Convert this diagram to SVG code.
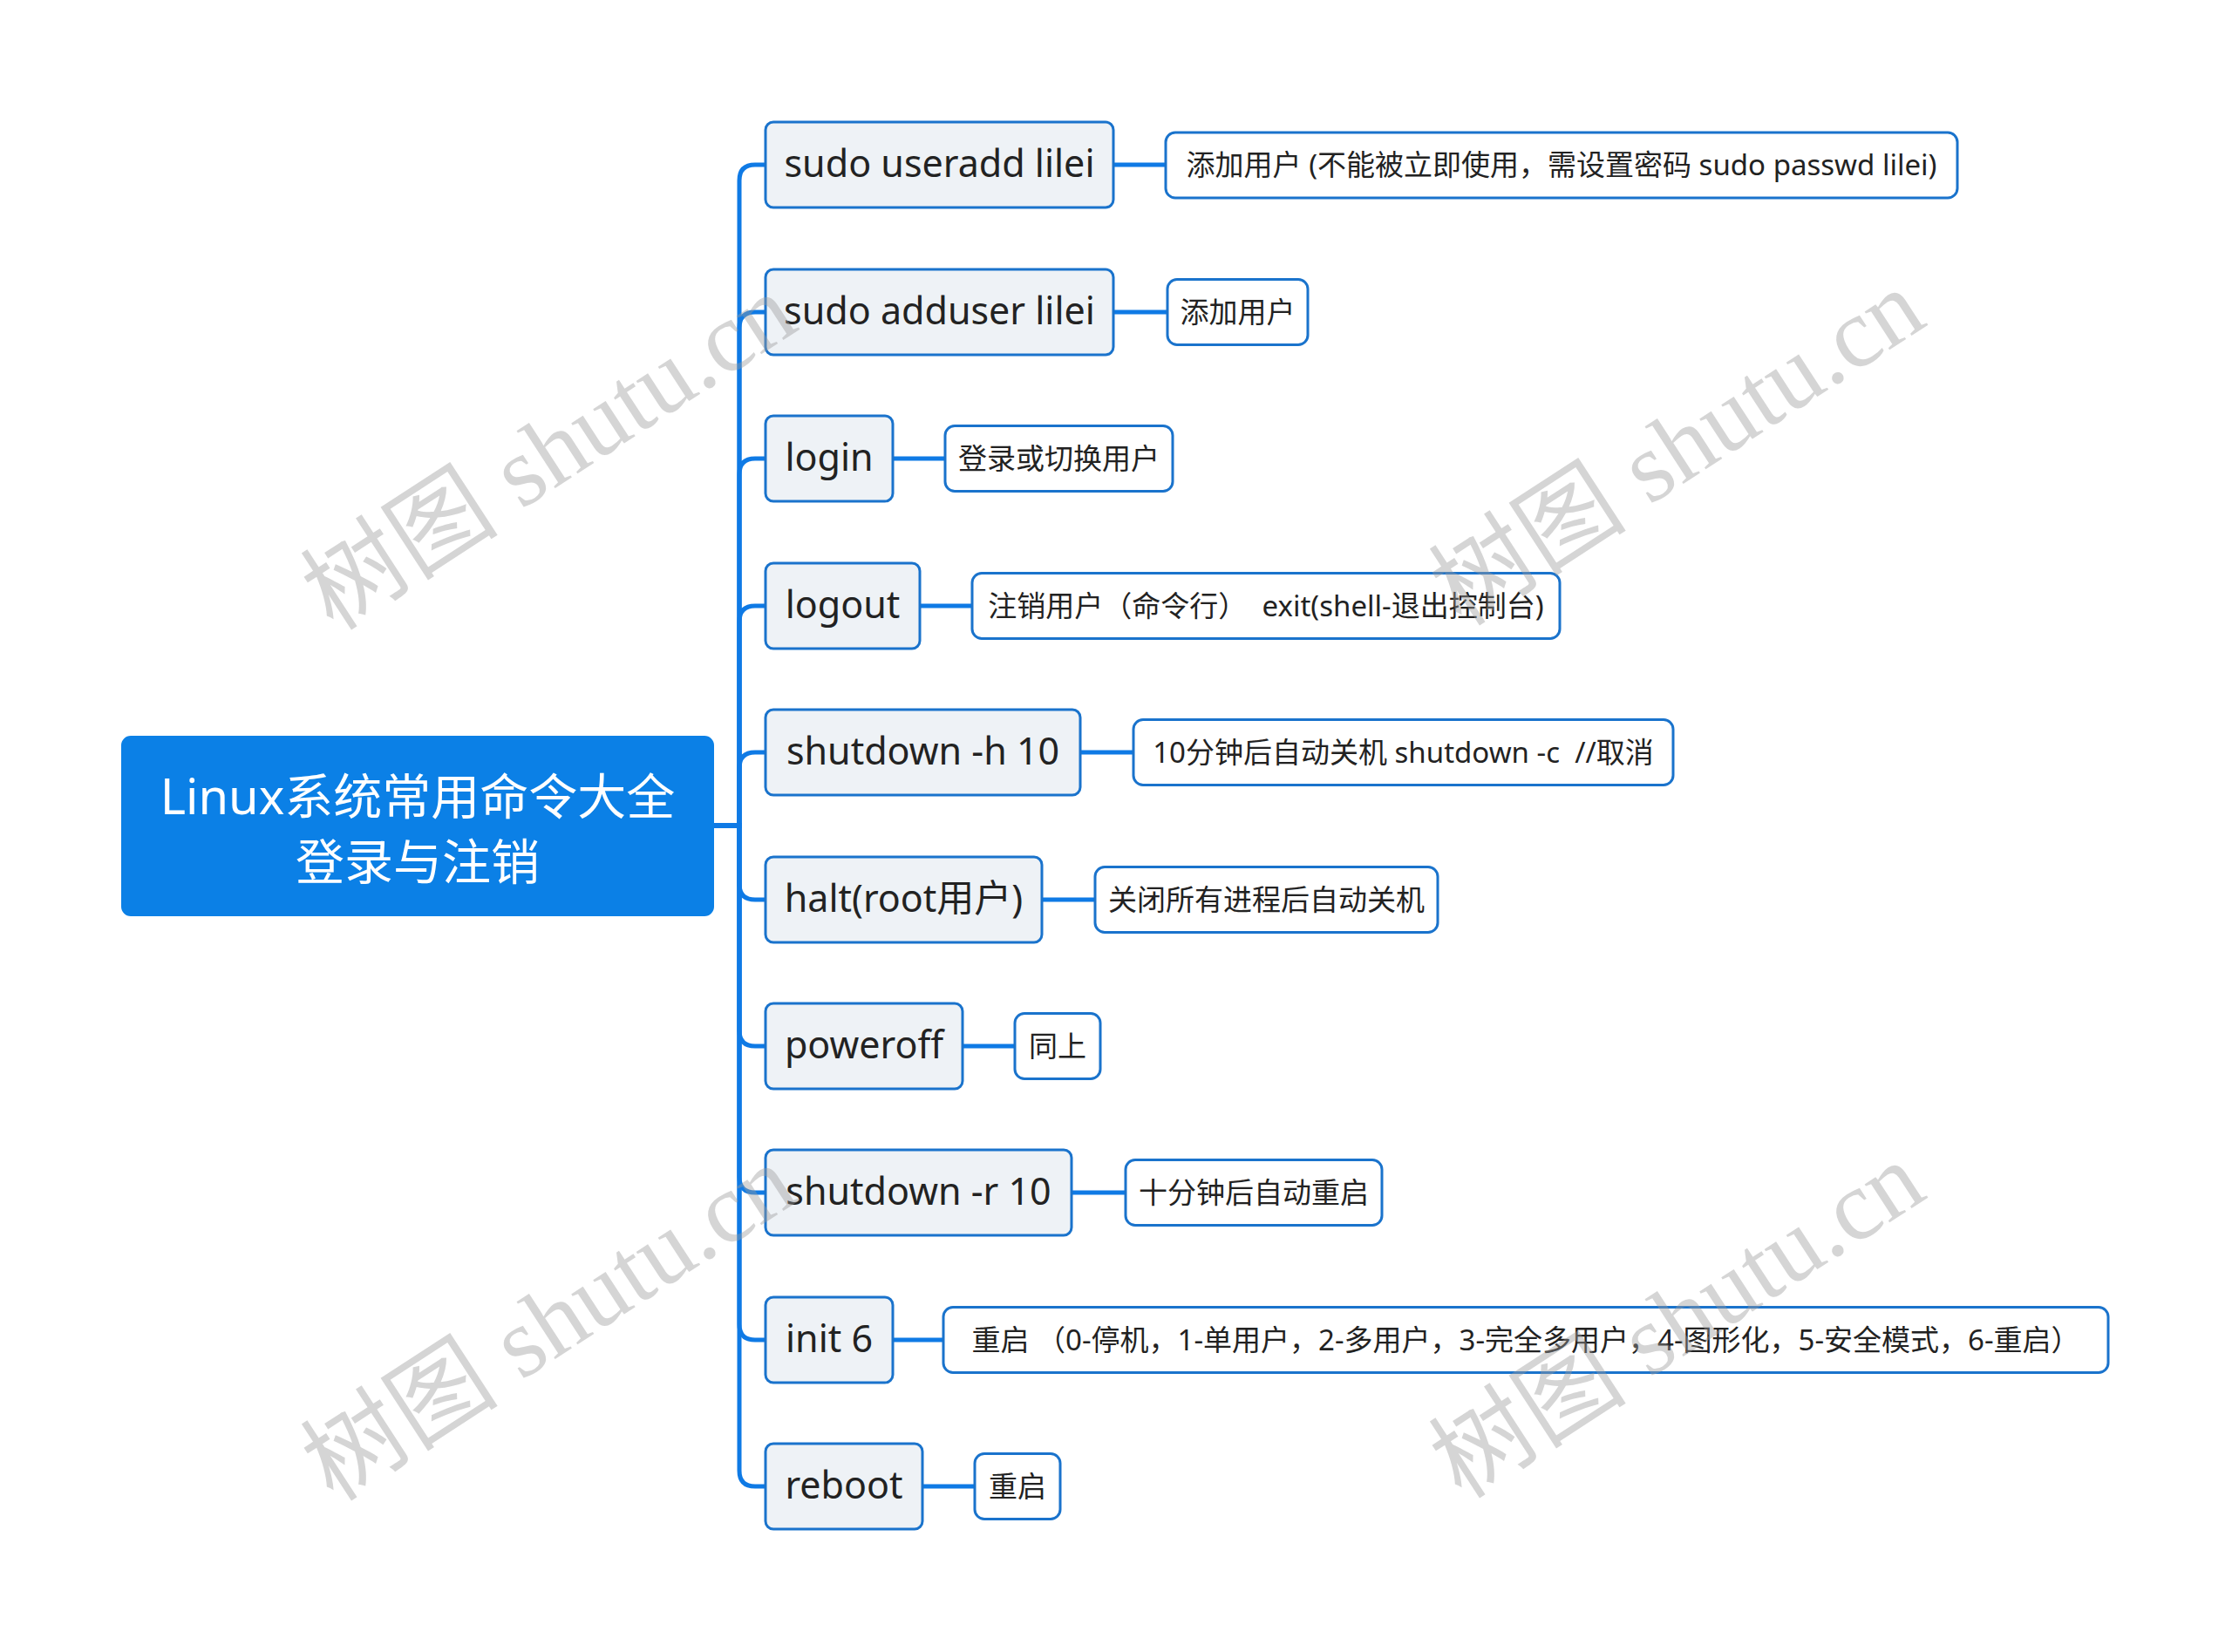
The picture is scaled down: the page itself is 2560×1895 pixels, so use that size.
<svg xmlns="http://www.w3.org/2000/svg" width="2560" height="1895" viewBox="0 0 2560 1895">
<style>
.bg{fill:#ffffff}
.root rect{fill:#0b80e6;stroke:#0b80e6;stroke-width:2}
.root text{fill:#ffffff;font-family:"Noto Sans","Noto Sans CJK SC",sans-serif;font-size:56px;text-anchor:middle}
.main rect{fill:#eef2f6;stroke:#1a73cc;stroke-width:3}
.main text{fill:#222222;font-family:"Noto Sans","Noto Sans CJK SC",sans-serif;font-size:43px;text-anchor:middle}
.leaf rect{fill:#ffffff;stroke:#1a73cc;stroke-width:3}
.leaf text{fill:#222222;font-family:"Noto Sans","Noto Sans CJK SC",sans-serif;font-size:33px;text-anchor:middle;white-space:pre}
.conn path{fill:none;stroke:#0f7ae5;stroke-width:5;stroke-linecap:butt}
.wm{fill:#9a9a9a;fill-opacity:0.42;font-family:"Liberation Serif","Noto Sans CJK SC",serif;font-size:114px;text-anchor:middle}
</style>
<rect class="bg" x="0" y="0" width="2560" height="1895"/>
<g id="connectors" class="conn">
<path d="M818 947 H848 V207 Q848 189 866 189 H878"/>
<path d="M818 947 H848 V376 Q848 358 866 358 H878"/>
<path d="M818 947 H848 V544 Q848 526 866 526 H878"/>
<path d="M818 947 H848 V713 Q848 695 866 695 H878"/>
<path d="M818 947 H848 V881 Q848 863 866 863 H878"/>
<path d="M818 947 H848 V1014 Q848 1032 866 1032 H878"/>
<path d="M818 947 H848 V1182 Q848 1200 866 1200 H878"/>
<path d="M818 947 H848 V1350 Q848 1368 866 1368 H878"/>
<path d="M818 947 H848 V1519 Q848 1537 866 1537 H878"/>
<path d="M818 947 H848 V1687 Q848 1705 866 1705 H878"/>
<path d="M1277 189 H1337"/>
<path d="M1277 358 H1339"/>
<path d="M1024 526 H1084"/>
<path d="M1055 695 H1115"/>
<path d="M1239 863 H1300"/>
<path d="M1195 1032 H1256"/>
<path d="M1104 1200 H1164"/>
<path d="M1229 1368 H1291"/>
<path d="M1024 1537 H1082"/>
<path d="M1058 1705 H1118"/>
</g>
<g id="root" class="root">
<rect x="140" y="845" width="678" height="205" rx="10"/>
<text x="479" y="934">Linux系统常用命令大全</text>
<text x="479" y="1009">登录与注销</text>
</g>
<g id="n1" class="main"><rect x="878" y="140" width="399" height="98" rx="9"/><text x="1077.5" y="203">sudo useradd lilei</text></g>
<g id="n2" class="main"><rect x="878" y="309" width="399" height="98" rx="9"/><text x="1077.5" y="372">sudo adduser lilei</text></g>
<g id="n3" class="main"><rect x="878" y="477" width="146" height="98" rx="9"/><text x="951" y="540">login</text></g>
<g id="n4" class="main"><rect x="878" y="646" width="177" height="98" rx="9"/><text x="966.5" y="709">logout</text></g>
<g id="n5" class="main"><rect x="878" y="814" width="361" height="98" rx="9"/><text x="1058.5" y="877">shutdown -h 10</text></g>
<g id="n6" class="main"><rect x="878" y="983" width="317" height="98" rx="9"/><text x="1036.5" y="1046">halt(root用户)</text></g>
<g id="n7" class="main"><rect x="878" y="1151" width="226" height="98" rx="9"/><text x="991" y="1214">poweroff</text></g>
<g id="n8" class="main"><rect x="878" y="1319" width="351" height="98" rx="9"/><text x="1053.5" y="1382">shutdown -r 10</text></g>
<g id="n9" class="main"><rect x="878" y="1488" width="146" height="98" rx="9"/><text x="951" y="1551">init 6</text></g>
<g id="n10" class="main"><rect x="878" y="1656" width="180" height="98" rx="9"/><text x="968" y="1719">reboot</text></g>
<g id="l1" class="leaf"><rect x="1337" y="152" width="908" height="75" rx="11"/><text x="1791" y="201">添加用户 (不能被立即使用，需设置密码 sudo passwd lilei)</text></g>
<g id="l2" class="leaf"><rect x="1339" y="320.5" width="161" height="75" rx="11"/><text x="1419.5" y="370">添加用户</text></g>
<g id="l3" class="leaf"><rect x="1084" y="488.5" width="261" height="75" rx="11"/><text x="1214.5" y="538">登录或切换用户</text></g>
<g id="l4" class="leaf"><rect x="1115" y="657.5" width="674" height="75" rx="11"/><text x="1452" y="707">注销用户（命令行）  exit(shell-退出控制台)</text></g>
<g id="l5" class="leaf"><rect x="1300" y="825.5" width="619" height="75" rx="11"/><text x="1609.5" y="875">10分钟后自动关机 shutdown -c  //取消</text></g>
<g id="l6" class="leaf"><rect x="1256" y="994.5" width="393" height="75" rx="11"/><text x="1452.5" y="1044">关闭所有进程后自动关机</text></g>
<g id="l7" class="leaf"><rect x="1164" y="1162.5" width="98" height="75" rx="11"/><text x="1213" y="1212">同上</text></g>
<g id="l8" class="leaf"><rect x="1291" y="1330.5" width="294" height="75" rx="11"/><text x="1438" y="1380">十分钟后自动重启</text></g>
<g id="l9" class="leaf"><rect x="1082" y="1499.5" width="1336" height="75" rx="11"/><text x="1750" y="1549">重启 （0-停机，1-单用户，2-多用户，3-完全多用户，4-图形化，5-安全模式，6-重启）</text></g>
<g id="l10" class="leaf"><rect x="1118" y="1667.5" width="98" height="75" rx="11"/><text x="1167" y="1717">重启</text></g>
<g id="watermarks">
<text class="wm" transform="translate(630 519) rotate(-33)" y="38">树图 shutu.cn</text>
<text class="wm" transform="translate(1924 514) rotate(-33)" y="38">树图 shutu.cn</text>
<text class="wm" transform="translate(630 1518) rotate(-33)" y="38">树图 shutu.cn</text>
<text class="wm" transform="translate(1924 1515) rotate(-33)" y="38">树图 shutu.cn</text>
</g>
</svg>
